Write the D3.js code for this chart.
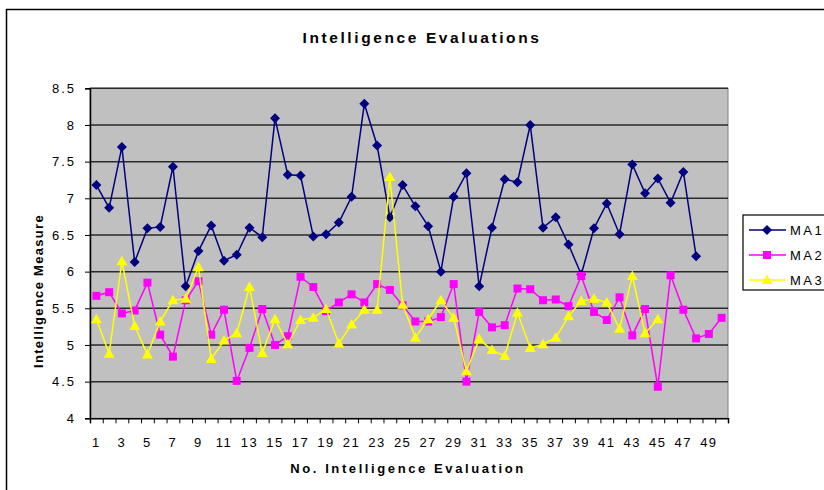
<!DOCTYPE html>
<html>
<head>
<meta charset="utf-8">
<script src="https://cdn.jsdelivr.net/npm/d3@7"></script>
<style>
  body { margin: 0; background: #fff; }
  svg { display: block; font-family: "Liberation Sans", Arial, sans-serif; }
</style>
</head>
<body>
<svg id="chart" width="824" height="490"></svg>
<script>
// evaluation numbers 1..50
var evaluations = d3.range(1, 51);

var ma1 = [7.18, 6.87, 7.70, 6.13, 6.59, 6.61, 7.43, 5.80, 6.28, 6.63,
           6.15, 6.23, 6.60, 6.47, 8.09, 7.32, 7.31, 6.48, 6.51, 6.67,
           7.02, 8.29, 7.72, 6.74, 7.18, 6.89, 6.62, 6.00, 7.02, 7.34,
           5.80, 6.60, 7.26, 7.22, 8.00, 6.60, 6.74, 6.37, 5.96, 6.59,
           6.93, 6.51, 7.46, 7.07, 7.27, 6.94, 7.36, 6.21, null, null];

var ma2 = [5.67, 5.72, 5.43, 5.47, 5.85, 5.14, 4.84, 5.61, 5.87, 5.14,
           5.48, 4.51, 4.96, 5.49, 5.00, 5.12, 5.93, 5.79, 5.46, 5.58,
           5.69, 5.58, 5.83, 5.75, 5.54, 5.32, 5.32, 5.38, 5.83, 4.50,
           5.45, 5.24, 5.27, 5.77, 5.76, 5.61, 5.62, 5.53, 5.94, 5.45,
           5.34, 5.65, 5.13, 5.49, 4.43, 5.95, 5.48, 5.09, 5.15, 5.37];

var ma3 = [5.35, 4.88, 6.14, 5.26, 4.87, 5.32, 5.61, 5.63, 6.06, 4.81,
           5.06, 5.16, 5.79, 4.89, 5.35, 5.01, 5.34, 5.37, 5.49, 5.02,
           5.28, 5.48, 5.48, 7.29, 5.55, 5.10, 5.35, 5.61, 5.37, 4.64,
           5.08, 4.93, 4.85, 5.44, 4.96, 5.01, 5.10, 5.39, 5.60, 5.63,
           5.58, 5.22, 5.94, 5.16, 5.35, null, null, null, null, null];

var yTicks = [4, 4.5, 5, 5.5, 6, 6.5, 7, 7.5, 8, 8.5];
var xTickLabels = evaluations.filter(function(d) { return d % 2 === 1; });

var seriesNames = ["MA1", "MA2", "MA3"];
var seriesValues = [ma1, ma2, ma3];
var seriesColors = ["#000080", "#FF00FF", "#FFFF00"];
var seriesShapes = ["diamond", "square", "triangle"];

var plot = {left: 90, top: 88.3, right: 728, bottom: 418.3};

var svg = d3.select("#chart");

// outer chart frame (runs past the picture on the right and bottom)
svg.append("rect")
   .attr("x", 6.5).attr("y", 9.5)
   .attr("width", 840).attr("height", 500)
   .attr("fill", "#fff")
   .attr("stroke", "#000")
   .attr("stroke-width", 1.5);

var xScale = d3.scaleBand()
               .domain(evaluations)
               .range([plot.left, plot.right]);

var yScale = d3.scaleLinear()
               .domain([4, 8.5])
               .range([plot.bottom, plot.top]);

// plot background
svg.append("rect")
   .attr("x", plot.left).attr("y", plot.top)
   .attr("width", plot.right - plot.left)
   .attr("height", plot.bottom - plot.top)
   .attr("fill", "#C0C0C0")
   .attr("stroke", "#808080")
   .attr("stroke-width", 1);

// gridlines
svg.append("g")
   .selectAll("line")
   .data(yTicks.filter(function(d) { return d > 4; }))
   .enter()
   .append("line")
   .attr("x1", plot.left).attr("x2", plot.right)
   .attr("y1", function(d) { return yScale(d); })
   .attr("y2", function(d) { return yScale(d); })
   .attr("stroke", "#2a2a2a")
   .attr("stroke-width", 1.5);

// y axis
var yAxis = d3.axisLeft(yScale)
              .tickValues(yTicks)
              .tickSize(5)
              .tickPadding(9)
              .tickFormat(function(d) { return String(d); });

var yG = svg.append("g")
   .attr("transform", "translate(" + plot.left + ",0)")
   .call(yAxis);
yG.select(".domain").attr("stroke", "#000").attr("stroke-width", 1.5);
yG.selectAll(".tick line").attr("stroke", "#000");
yG.selectAll(".tick text")
  .attr("font-size", "13px")
  .attr("letter-spacing", "2px")
  .attr("fill", "#000");

// x axis: ticks at category boundaries, labels on odd numbers
var xBound = d3.scaleLinear().domain([0, 50]).range([plot.left, plot.right]);
var xG = svg.append("g")
   .attr("transform", "translate(0," + plot.bottom + ")")
   .call(d3.axisBottom(xBound).ticks(50).tickSize(5).tickFormat(""));
xG.select(".domain").attr("stroke", "#000").attr("stroke-width", 1.5);
xG.selectAll(".tick line").attr("stroke", "#000");

svg.append("g")
   .selectAll("text")
   .data(xTickLabels)
   .enter()
   .append("text")
   .attr("x", function(d) { return xScale(d) + xScale.bandwidth() / 2; })
   .attr("y", plot.bottom + 29)
   .attr("text-anchor", "middle")
   .attr("font-size", "13px")
   .attr("letter-spacing", "1.5px")
   .text(function(d) { return d; });

// titles
svg.append("text")
   .attr("x", 422).attr("y", 43)
   .attr("text-anchor", "middle")
   .attr("font-size", "15.5px")
   .attr("font-weight", "bold")
   .attr("letter-spacing", "2.6px")
   .text("Intelligence Evaluations");

svg.append("text")
   .attr("x", 408).attr("y", 473)
   .attr("text-anchor", "middle")
   .attr("font-size", "13px")
   .attr("font-weight", "bold")
   .attr("letter-spacing", "2.6px")
   .text("No. Intelligence Evaluation");

svg.append("text")
   .attr("transform", "translate(43,291)rotate(-90)")
   .attr("text-anchor", "middle")
   .attr("font-size", "13px")
   .attr("font-weight", "bold")
   .attr("letter-spacing", "1.3px")
   .text("Intelligence Measure");

function markerPath(shape) {
  if (shape === "diamond") return "M0,-5L5,0L0,5L-5,0Z";
  if (shape === "square") return "M-4,-4L4,-4L4,4L-4,4Z";
  return "M0,-5.5L5.5,4L-5.5,4Z";
}

var line = d3.line()
             .defined(function(d) { return d.v !== null; })
             .x(function(d) { return xScale(d.x) + xScale.bandwidth() / 2; })
             .y(function(d) { return yScale(d.v); });

seriesValues.forEach(function(vals, i) {
  var pts = evaluations.map(function(x, j) { return {x: x, v: vals[j]}; });
  var g = svg.append("g");
  g.append("path")
   .datum(pts)
   .attr("d", line)
   .attr("fill", "none")
   .attr("stroke", seriesColors[i])
   .attr("stroke-width", 1.5);
  g.selectAll("path.marker")
   .data(pts.filter(function(d) { return d.v !== null; }))
   .enter()
   .append("path")
   .attr("class", "marker")
   .attr("transform", function(d) {
     return "translate(" + (xScale(d.x) + xScale.bandwidth() / 2) + "," + yScale(d.v) + ")";
   })
   .attr("d", markerPath(seriesShapes[i]))
   .attr("fill", seriesColors[i]);
});

// legend
var legend = svg.append("g");
legend.append("rect")
      .attr("x", 743).attr("y", 215)
      .attr("width", 100).attr("height", 75)
      .attr("fill", "#fff")
      .attr("stroke", "#000")
      .attr("stroke-width", 1.2);

seriesNames.forEach(function(name, i) {
  var ly = 230 + i * 25;
  legend.append("line")
        .attr("x1", 749).attr("x2", 786)
        .attr("y1", ly).attr("y2", ly)
        .attr("stroke", seriesColors[i])
        .attr("stroke-width", 1.5);
  legend.append("path")
        .attr("transform", "translate(767," + ly + ")")
        .attr("d", markerPath(seriesShapes[i]))
        .attr("fill", seriesColors[i]);
  legend.append("text")
        .attr("x", 790).attr("y", ly + 5)
        .attr("font-size", "13px")
        .attr("letter-spacing", "2.5px")
        .text(name);
});
</script>
</body>
</html>
